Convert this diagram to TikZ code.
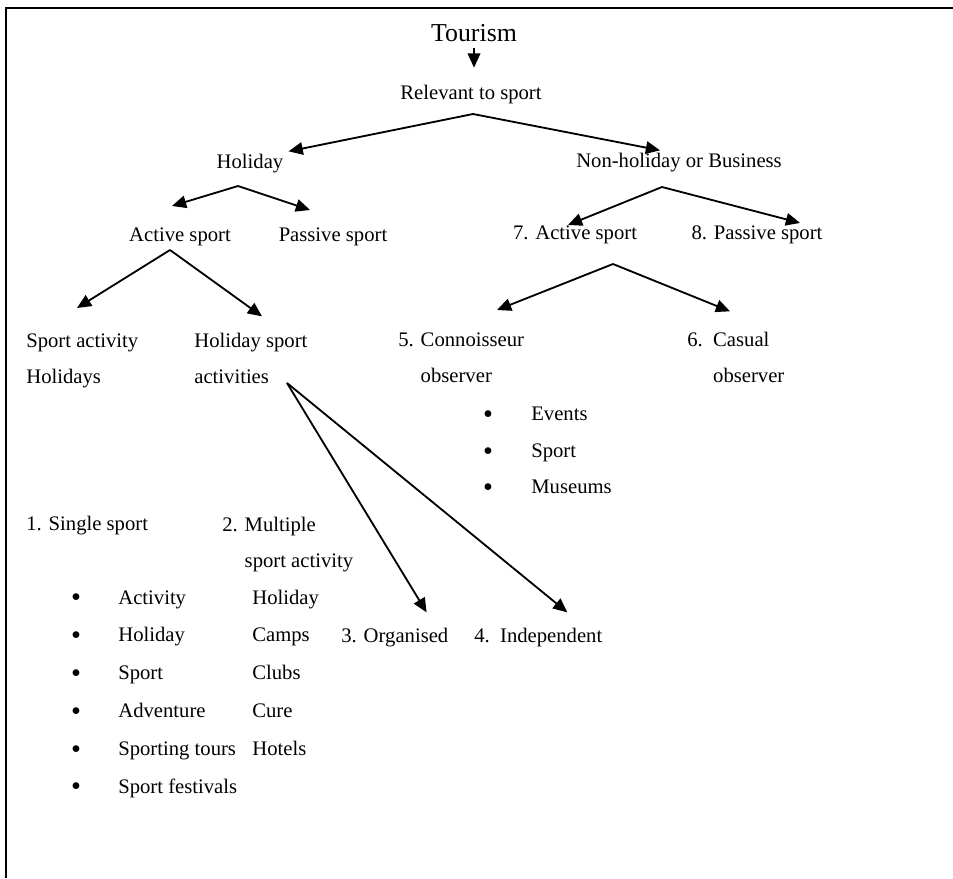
\documentclass[tikz,border=0pt]{standalone}
\usepackage{fontspec}
\setmainfont{Liberation Serif}
\usetikzlibrary{arrows.meta,calc,positioning}
\tikzset{
  lbl/.style={inner sep=0pt,anchor=base,font=\fontsize{12.4}{21.6}\selectfont},
  lbll/.style={lbl,anchor=base west,align=left},
  bul/.style={lbl,anchor=base,font=\fontsize{17}{20}\selectfont},
  branch/.style={-{Triangle[length=8.5pt,width=7.5pt]},line width=1.1pt},
  frame/.style={line width=1.3pt},
}

\begin{document}
\begin{tikzpicture}[x=0.6pt,y=-0.6pt]
  \useasboundingbox (0,0) rectangle (953,878);
  \draw[frame] (6,878) -- (6,8) -- (953,8);
  % upper tree
  \node[lbl,font=\fontsize{15.5}{18}\selectfont](tour) at (474,41){Tourism};
  \node[lbl](rel) at (471,99){Relevant to sport};
  \node[lbl](hol) at (250,168){Holiday};
  \node[lbl](nonhol) at (679,167){Non-holiday or Business};
  \node[lbl](act) at (180,241){Active sport};
  \node[lbl](pas) at (333,241){Passive sport};
  \node[lbl](act7) at (575,239){7. Active sport};
  \node[lbl](pas8) at (757,239){8. Passive sport};
  \node[lbll](sah) at (26,383){Sport activity\\Holidays};
  \node[lbll](hsa) at (194,383){Holiday sport\\activities};
  \node[lbll](con) at (398,382){5. Connoisseur\\\phantom{5. }observer};
  \node[lbll](cas) at (687,382){6.\ \ Casual\\\phantom{6.\ \ }observer};
  \coordinate (relfork) at (473,114);
  \coordinate (holfork) at (238,186);
  \coordinate (nonfork) at (662,187);
  \coordinate (actfork) at (170,250);
  \coordinate (a7fork) at (613,264);
  \coordinate (hsafork) at (287,383);
  \draw[branch,shorten <=4pt,shorten >=10pt] (tour.south) -- (tour.south |- rel.north);
  \draw[branch] (relfork) -- ($(hol.north east)+(5,-2)$);
  \draw[branch] (relfork) -- ($(nonhol.north)+(-19,-2)$);
  \draw[branch] (holfork) -- ($(act.north)+(-8,-21)$);
  \draw[branch] (holfork) -- ($(pas.north)+(-23,-17)$);
  \draw[branch] (nonfork) -- ($(act7.north)+(-7,0)$);
  \draw[branch] (nonfork) -- ($(pas8.north)+(43,-2)$);
  \draw[branch] (actfork) -- ($(sah.north west)+(51,-25)$);
  \draw[branch] (actfork) -- ($(hsa.north west)+(68,-16)$);
  \draw[branch] (a7fork) -- ($(con.north west)+(99,-22)$);
  \draw[branch] (a7fork) -- ($(cas.north west)+(43,-20)$);
  % observer list
  \foreach \txt [count=\i] in {Events,Sport,Museums}{
    \node[bul](ob\i) at (488,{387+36.5*\i}){•};
    \node[lbll](ot\i) at (531,{384+36.5*\i}){\txt};
  }
  % lower part
  \node[lbll](sgl) at (26,530){1. Single sport};
  \node[lbll](mul) at (222,567){2. Multiple\\\phantom{2. }sport activity};
  \node[lbll](org) at (341,642){3. Organised};
  \node[lbll](ind) at (474,642){4.\ \ Independent};
  \draw[branch] (hsafork) -- ($(org.north east)+(-22,-15)$);
  \draw[branch] (hsafork) -- ($(ind.north)+(29,-15)$);
  \foreach \txt [count=\i] in {Activity,Holiday,Sport,Adventure,Sporting tours,Sport festivals}{
    \node[bul](sb\i) at (76,{569+37.8*\i}){•};
    \node[lbll](st\i) at (118,{566.2+37.8*\i}){\txt};
  }
  \foreach \txt [count=\i] in {Holiday,Camps,Clubs,Cure,Hotels}
    \node[lbll](mc\i) at (252,{566.2+37.8*\i}){\txt};
\end{tikzpicture}
\end{document}
